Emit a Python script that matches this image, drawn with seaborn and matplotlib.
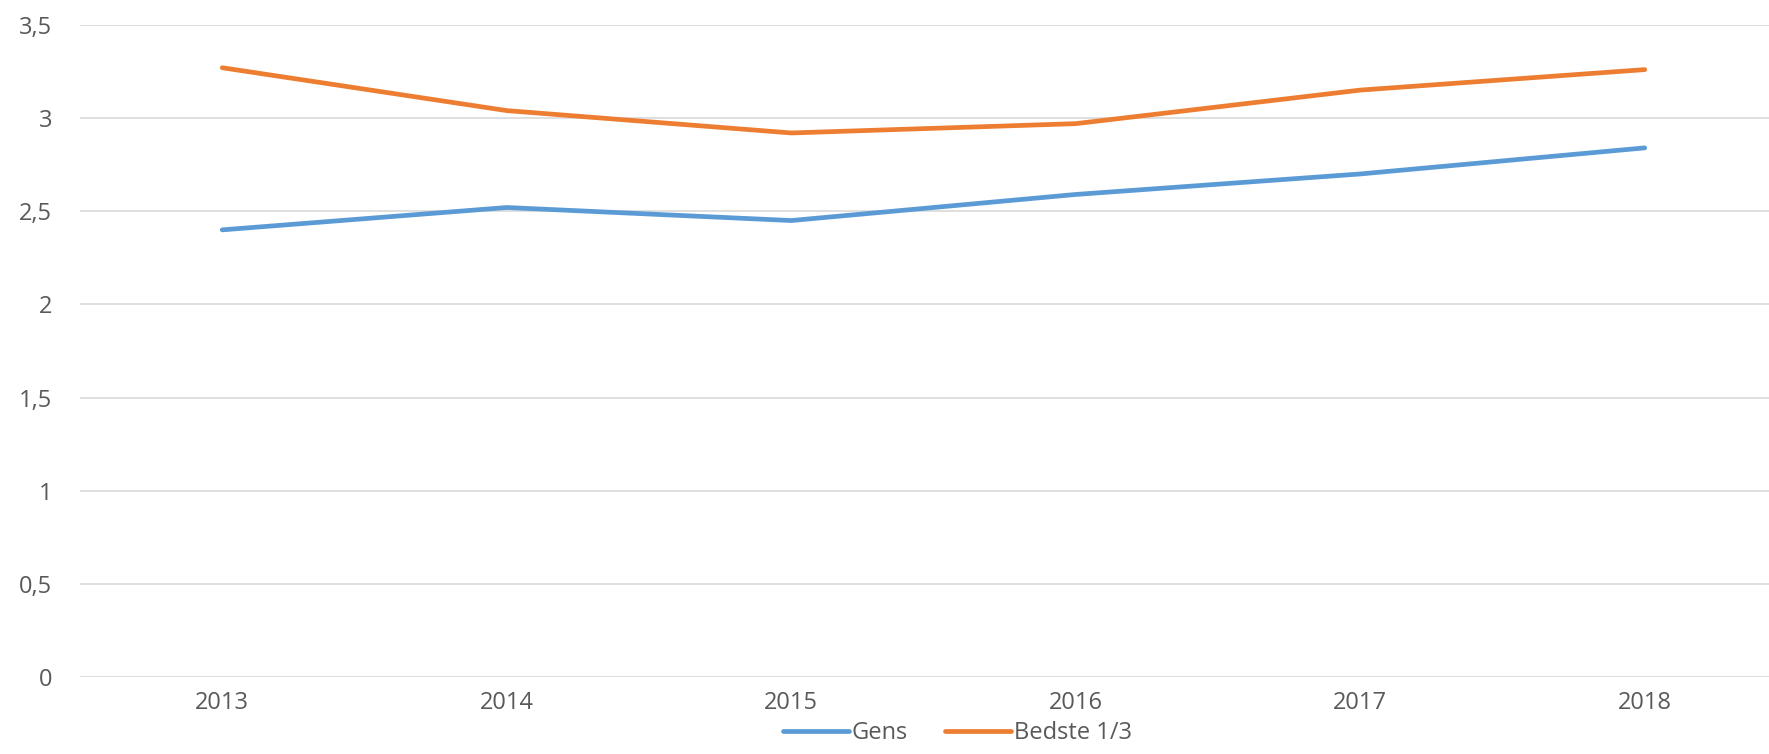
import pandas as pd
import matplotlib.pyplot as plt
import seaborn as sns
from matplotlib.ticker import FuncFormatter

# Data
years = ['2013', '2014', '2015', '2016', '2017', '2018']
gens = [2.40, 2.52, 2.45, 2.59, 2.70, 2.84]
bedste = [3.27, 3.04, 2.92, 2.97, 3.15, 3.26]
series_names = ['Gens', 'Bedste 1/3']
yticks = [0, 0.5, 1, 1.5, 2, 2.5, 3, 3.5]

df = pd.DataFrame({
    'year': years * 2,
    'value': gens + bedste,
    'series': [series_names[0]] * len(years) + [series_names[1]] * len(years),
})

sns.set_style('white')
plt.rcParams['font.family'] = ['Open Sans', 'DejaVu Sans']

fig = plt.figure(figsize=(17.69, 7.54), dpi=100)
# plot area runs slightly past the right edge of the image, like the original
ax = fig.add_axes([80 / 1769, 0.102, 1707 / 1769, 0.865])

sns.lineplot(data=df, x='year', y='value', hue='series', sort=False,
             palette=['#5B9BD5', '#ED7D31'], linewidth=3.4, ax=ax,
             solid_capstyle='round', legend=True)

ax.set_xlim(-0.5, len(years) - 0.5)
ax.set_ylim(0, 3.5)
ax.set_yticks(yticks)
ax.yaxis.set_major_formatter(FuncFormatter(lambda v, p: ('%g' % v).replace('.', ',')))
ax.grid(axis='y', color='#D9D9D9', linewidth=1.2)
ax.set_axisbelow(True)
for s in ax.spines.values():
    s.set_visible(False)
ax.tick_params(axis='both', length=0, labelsize=17, labelcolor='#595959', pad=10)
ax.tick_params(axis='y', pad=20)
ax.set_xlabel('')
ax.set_ylabel('')

ax.get_legend().remove()
handles, labels = ax.get_legend_handles_labels()
for h in handles:
    h.set_linewidth(3.4)
    h.set_solid_capstyle('round')
fig.legend(handles, labels, loc='lower center', bbox_to_anchor=(0.541, -0.016),
           ncol=2, frameon=False, fontsize=17, labelcolor='#595959',
           handlelength=2.8, handletextpad=0.1, columnspacing=1.6)

plt.savefig('out.png', dpi=100)
